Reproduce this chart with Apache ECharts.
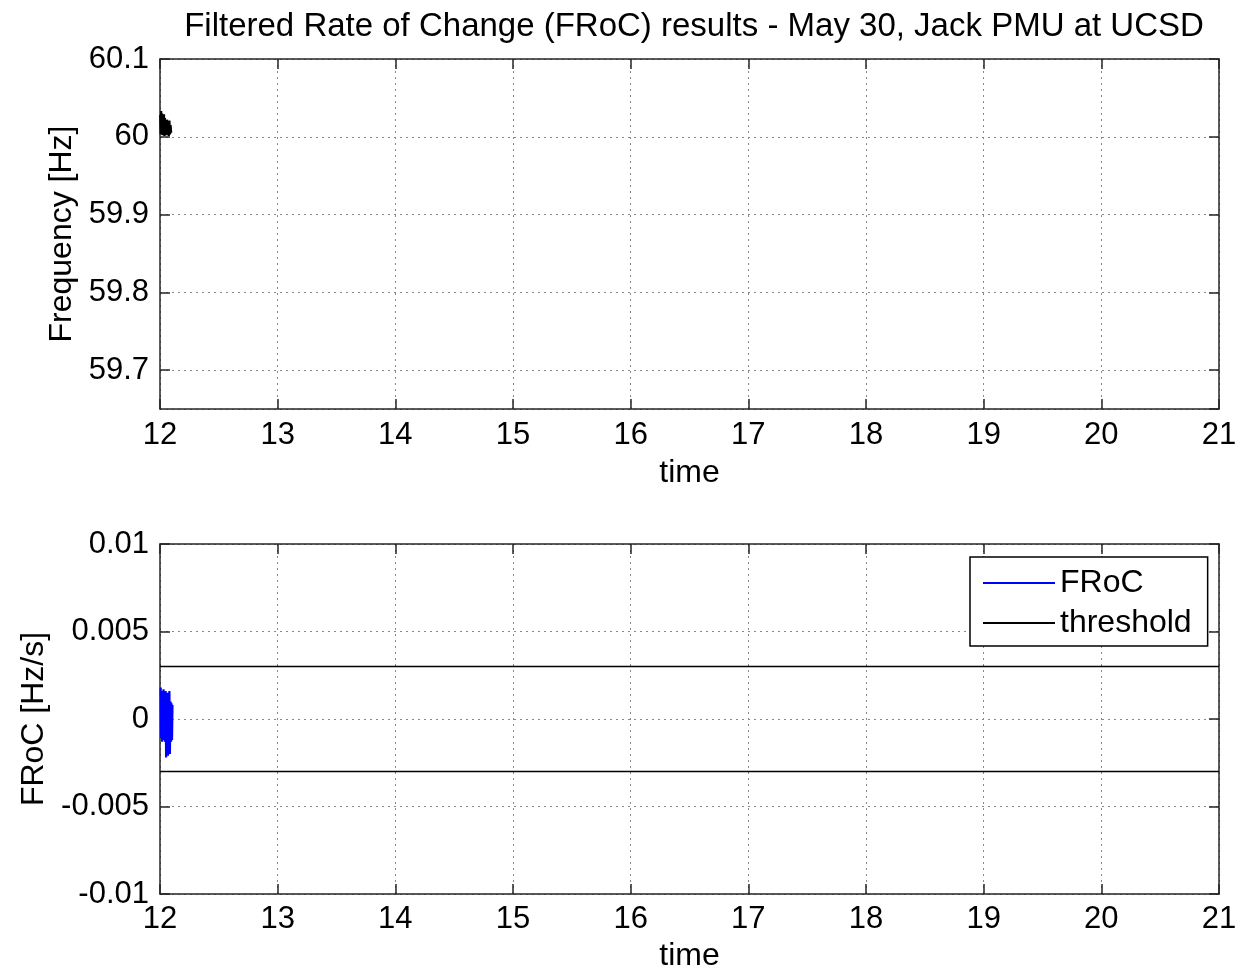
<!DOCTYPE html>
<html><head><meta charset="utf-8">
<script src="https://cdn.jsdelivr.net/npm/echarts@6/dist/echarts.min.js"></script>
<style>html,body{margin:0;padding:0;background:#fff}#c{width:1251px;height:972px}</style>
</head><body><div id="c"></div>
<script>
const titleText = 'Filtered Rate of Change (FRoC) results - May 30, Jack PMU at UCSD';
const timeRange = [12, 21];
const freqRange = [59.65, 60.1];
const frocRange = [-0.01, 0.01];
const frocStep = 0.005;

const freqTime = [12.002,12.006,12.010,12.014,12.018,12.022,12.026,12.030,12.034,12.038,12.042,12.046,12.050,12.055,12.060,12.065,12.070,12.075,12.080,12.085,12.090,12.095];
const freqValue = [60.028,60.003,60.033,60.005,60.030,60.002,60.026,60.004,60.029,60.001,60.024,60.003,60.019,60.002,60.022,60.004,60.017,60.001,60.021,60.003,60.015,60.005];

const frocTime = [12.006,12.010,12.014,12.018,12.022,12.026,12.030,12.034,12.038,12.042,12.048,12.052,12.056,12.060,12.064,12.068,12.072,12.076,12.080,12.084,12.090,12.094,12.098,12.102,12.106];
const frocValue = [0.0018,-0.0011,0.0016,-0.0013,0.0015,-0.0012,0.0017,-0.0010,0.0014,-0.0013,0.0016,-0.0022,0.0013,-0.0019,0.0015,-0.0021,0.0012,-0.0016,0.0016,-0.0020,0.0010,-0.0013,0.0009,-0.0012,0.0008];

const thresholdValue = [0.003, -0.003];

const FONT = 'Liberation Sans';
const TICK_FS = 31;
const NAME_FS = 32;
const AX = '#262626';
const chart = echarts.init(document.getElementById('c'), null, {renderer: 'canvas'});

function xAx(grid, pos, labels, margin, gap) {
  return {
    type: 'value', gridIndex: grid, position: pos, min: timeRange[0], max: timeRange[1], interval: 1,
    name: labels ? 'time' : '', nameLocation: 'middle', nameGap: gap || 0,
    nameTextStyle: {fontFamily: FONT, fontSize: NAME_FS, color: '#000'},
    axisLine: {show: true, onZero: false, lineStyle: {color: AX, width: 1.5}},
    axisTick: {show: true, inside: true, length: 10, lineStyle: {color: AX, width: 1.5}},
    axisLabel: {show: labels, fontFamily: FONT, fontSize: TICK_FS, color: '#000', margin: margin},
    splitLine: {show: labels, lineStyle: {color: '#888', type: [2, 4], width: 1}}
  };
}
function yAx(grid, pos, labels, range, extra, name, gap) {
  return Object.assign({
    type: 'value', gridIndex: grid, position: pos, min: range[0], max: range[1],
    name: labels ? name : '', nameLocation: 'middle', nameGap: gap,
    nameTextStyle: {fontFamily: FONT, fontSize: NAME_FS, color: '#000'},
    axisLine: {show: true, onZero: false, lineStyle: {color: AX, width: 1.5}},
    axisTick: {show: true, inside: true, length: 10, lineStyle: {color: AX, width: 1.5}},
    axisLabel: {show: labels, fontFamily: FONT, fontSize: TICK_FS, color: '#000', margin: 11, showMinLabel: grid === 0 ? false : true},
    splitLine: {show: labels, lineStyle: {color: '#888', type: [2, 4], width: 1}}
  }, extra);
}

const option = {
  animation: false,
  backgroundColor: '#fff',
  title: {
    text: titleText, left: 689, top: 5, textAlign: 'center',
    textStyle: {fontFamily: FONT, fontSize: 33, fontWeight: 'normal', color: '#000'}
  },
  grid: [
    {left: 160, top: 59, width: 1059, height: 350, outerBoundsMode: 'none', containLabel: false},
    {left: 160, top: 544, width: 1059, height: 350, outerBoundsMode: 'none', containLabel: false}
  ],
  legend: {
    left: 970, top: 557, orient: 'vertical',
    backgroundColor: '#fff', borderColor: '#000', borderWidth: 1.5,
    padding: [10, 16, 7, 13], itemGap: 8, itemWidth: 72, itemHeight: 2,
    textStyle: {fontFamily: FONT, fontSize: NAME_FS, color: '#000', lineHeight: 32},
    data: [{name: 'FRoC', icon: 'rect'}, {name: 'threshold', icon: 'rect'}]
  },
  xAxis: [xAx(0, 'bottom', true, 11, 48), xAx(0, 'top', false, 0), xAx(1, 'bottom', true, 10, 46), xAx(1, 'top', false, 0)],
  yAxis: [
    yAx(0, 'left', true, freqRange, {splitNumber: 5}, 'Frequency [Hz]', 82),
    yAx(0, 'right', false, freqRange, {splitNumber: 5}, '', 0),
    yAx(1, 'left', true, frocRange, {interval: frocStep}, 'FRoC [Hz/s]', 110),
    yAx(1, 'right', false, frocRange, {interval: frocStep}, '', 0)
  ],
  series: [
    {type: 'line', name: 'Frequency', xAxisIndex: 0, yAxisIndex: 0, showSymbol: false, symbol: 'none',
     lineStyle: {color: '#000', width: 2.2}, itemStyle: {color: '#000'},
     data: freqTime.map((t, i) => [t, freqValue[i]])},
    {type: 'line', name: 'FRoC', xAxisIndex: 2, yAxisIndex: 2, showSymbol: false, symbol: 'none',
     lineStyle: {color: '#0000ff', width: 2.2}, itemStyle: {color: '#0000ff'},
     data: frocTime.map((t, i) => [t, frocValue[i]])},
    {type: 'line', name: 'threshold', xAxisIndex: 2, yAxisIndex: 2, showSymbol: false, symbol: 'none',
     lineStyle: {color: '#000', width: 1.5}, itemStyle: {color: '#000'},
     data: timeRange.map(t => [t, thresholdValue[0]])},
    {type: 'line', name: 'threshold', xAxisIndex: 2, yAxisIndex: 2, showSymbol: false, symbol: 'none',
     lineStyle: {color: '#000', width: 1.5}, itemStyle: {color: '#000'},
     data: timeRange.map(t => [t, thresholdValue[1]])}
  ]
};
chart.setOption(option);
</script>
</body></html>
